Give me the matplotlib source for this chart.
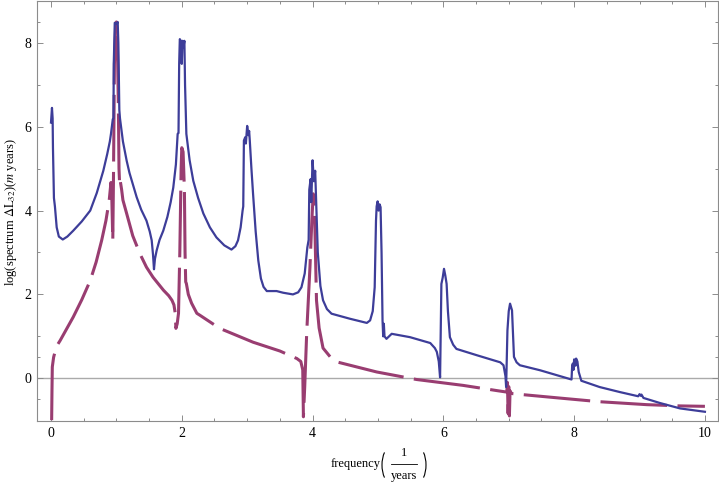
"""Spectrum of Delta L_32 vs frequency, two series on a log scale (Mathematica-style frame)."""

import matplotlib

matplotlib.use("Agg")
import matplotlib.pyplot as plt  # noqa: E402
from matplotlib.lines import Line2D  # noqa: E402
from matplotlib.patches import Arc  # noqa: E402
from matplotlib.ticker import FixedLocator, MultipleLocator  # noqa: E402

plt.rcParams["font.family"] = ["Liberation Serif", "DejaVu Serif"]
plt.rcParams["mathtext.fontset"] = "stix"

BLUE = "#3d3d99"
MAGENTA = "#993d71"
FRAME = "#8c8c8c"

# solid series
blue_x = [0.0, 0.015, 0.025, 0.03, 0.045, 0.06, 0.087, 0.12, 0.18, 0.25, 0.34, 0.47, 0.6, 0.7,
          0.8, 0.86, 0.9, 0.917, 0.945, 0.955, 0.96, 0.975, 1.0, 1.02, 1.03, 1.045, 1.055, 1.1,
          1.157, 1.2, 1.31, 1.38, 1.46, 1.51, 1.54, 1.56, 1.575, 1.59, 1.616, 1.66, 1.717,
          1.78, 1.83, 1.87, 1.91, 1.937, 1.95, 1.96, 1.97, 1.985, 1.995, 2.0, 2.01, 2.025, 2.04,
          2.05, 2.07, 2.12, 2.176, 2.25, 2.33, 2.43, 2.53, 2.65, 2.76, 2.82, 2.86, 2.9, 2.93,
          2.94, 2.95, 2.97, 2.98, 3.0, 3.02, 3.03, 3.04, 3.065, 3.09, 3.13, 3.17, 3.21, 3.25,
          3.3, 3.45, 3.55, 3.7, 3.78, 3.83, 3.88, 3.92, 3.94, 3.95, 3.97, 3.98, 4.0, 4.02,
          4.04, 4.06, 4.08, 4.12, 4.16, 4.22, 4.29, 4.57, 4.83, 4.88, 4.92, 4.95, 4.97, 4.98,
          4.995, 5.01, 5.025, 5.04, 5.055, 5.07, 5.08, 5.09, 5.10, 5.13, 5.21, 5.49, 5.8,
          5.87, 5.9, 5.93, 5.95, 5.96, 5.97, 5.99, 6.01, 6.03, 6.05, 6.07, 6.1, 6.15, 6.2,
          6.51, 6.81, 6.87, 6.92, 6.95, 6.96, 6.98, 7.0, 7.02, 7.05, 7.07, 7.08, 7.12, 7.17,
          7.48, 7.96, 7.97, 7.98, 7.99, 8.0, 8.02, 8.03, 8.05, 8.07, 8.11, 8.39, 8.7, 8.98,
          9.0, 9.02, 9.03, 9.06, 9.31, 9.62, 10.0]
blue_y = [6.1, 6.45, 6.2, 5.5, 4.3, 4.1, 3.6, 3.38, 3.31, 3.38, 3.52, 3.74, 4.0, 4.42,
          4.95, 5.35, 5.65, 5.83, 6.18, 6.2, 7.5, 8.48, 8.45, 8.5, 8.0, 6.4, 6.2, 5.65,
          5.19, 4.9, 4.32, 4.02, 3.76, 3.5, 3.29, 2.95, 2.6, 2.85, 3.05, 3.3, 3.52,
          3.85, 4.2, 4.55, 5.1, 5.83, 5.85, 7.5, 8.09, 8.05, 7.55, 7.5, 8.05, 7.9, 8.05,
          7.0, 5.83, 5.2, 4.71, 4.3, 3.93, 3.6, 3.36, 3.17, 3.07, 3.15, 3.29, 3.6, 4.0,
          4.1, 5.67, 5.75, 5.6, 6.02, 5.8, 5.9, 5.67, 5.0, 4.4, 3.5, 2.81, 2.38, 2.18,
          2.08, 2.08, 2.04, 2.0, 2.05, 2.17, 2.5, 3.12, 3.3, 4.5, 4.75, 4.2, 5.2, 4.7,
          4.95, 4.0, 3.0, 2.2, 1.86, 1.65, 1.54, 1.42, 1.32, 1.38, 1.6, 2.17, 3.76, 4.1,
          4.22, 4.0, 4.15, 4.08, 3.0, 1.38, 1.0, 1.3, 1.0, 0.94, 1.06, 0.98, 0.84,
          0.72, 0.63, 0.4, 0.02, 1.2, 2.25, 2.4, 2.61, 2.45, 2.25, 1.6, 0.98, 0.8, 0.7,
          0.55, 0.41, 0.38, 0.31, 0.05, -0.21, 1.14, 1.6, 1.78, 1.62, 0.9, 0.51, 0.38, 0.31,
          0.19, -0.03, 0.3, 0.35, 0.2, 0.45, 0.3, 0.47, 0.4, 0.15, -0.06, -0.21, -0.33, -0.43,
          -0.38, -0.42, -0.39, -0.47, -0.59, -0.72, -0.8]

# dashed series
mag_x = [0.01, 0.015, 0.02, 0.04, 0.06, 0.1, 0.14, 0.34, 0.47, 0.6, 0.69, 0.775, 0.84, 0.89,
         0.917, 0.93, 0.945, 0.955, 0.97, 0.99, 1.0, 1.015, 1.03, 1.04, 1.05, 1.06, 1.08,
         1.1, 1.157, 1.25, 1.36, 1.46, 1.56, 1.72, 1.8, 1.85, 1.88, 1.9, 1.91, 1.93, 1.95,
         1.97, 1.99, 2.0, 2.02, 2.04, 2.05, 2.06, 2.07, 2.1, 2.15, 2.23, 2.28, 2.58, 3.09,
         3.5, 3.76, 3.82, 3.85, 3.86, 3.88, 3.91, 3.96, 3.99, 4.01, 4.03, 4.06, 4.1, 4.16,
         4.27, 4.37, 4.98, 5.59, 6.3, 6.84, 6.97, 6.98, 6.99, 7.0, 7.01, 7.02, 7.04, 7.07,
         7.83, 8.39, 9.11, 9.62, 10.0]
mag_y = [-1.0, -0.3, 0.27, 0.5, 0.62, 0.8, 0.9, 1.46, 1.87, 2.33, 2.77, 3.29, 3.76, 4.24,
         4.67, 4.3, 3.29, 4.7, 7.5, 8.44, 8.5, 8.0, 6.5, 5.0, 4.6, 4.7, 4.5,
         4.25, 3.93, 3.4, 2.97, 2.65, 2.41, 2.1, 1.97, 1.86, 1.75, 1.55, 1.19, 1.3, 1.55,
         3.0, 5.0, 5.5, 5.4, 4.5, 3.0, 2.3, 2.26, 2.0, 1.79, 1.55, 1.5, 1.19, 0.86,
         0.65, 0.47, 0.4, 0.2, -0.92, -0.2, 1.07, 2.65, 3.8, 4.4, 4.0, 1.86, 1.2, 0.72,
         0.51, 0.39, 0.15, -0.03, -0.17, -0.3, -0.33, -0.1, -0.84, -0.2, -0.9, -0.3, -0.36, -0.37,
         -0.48, -0.56, -0.63, -0.66, -0.67]

x_ticks = [0, 2, 4, 6, 8, 10]
y_ticks = [0, 2, 4, 6, 8]
y_minor = [-0.5, 0.5, 1, 3, 5, 7, 8.5]

W, H = 719, 487


def px(x, y):
    """Pixel position in the 719x487 canvas (y down) -> figure fraction."""
    return x / W, 1 - y / H


def main():
    fig = plt.figure(figsize=(W / 100, H / 100), dpi=100)
    ax = fig.add_axes([37 / W, 1 - 421 / H, 681 / W, 420 / H])
    ax.set_xlim(-0.214, 10.2)
    ax.set_ylim(-1.02, 9.0)

    ax.axhline(0, color="#aaaaaa", lw=1.0, zorder=1)

    ax.plot(blue_x, blue_y, color=BLUE, lw=1.6, zorder=3)
    lw = 2.2
    ax.plot(mag_x, mag_y, color=MAGENTA, lw=lw, zorder=2,
            linestyle=(0, (48.0 / lw, 7.5 / lw)), dash_capstyle="butt")

    for s in ax.spines.values():
        s.set_color(FRAME)
        s.set_linewidth(0.8)

    ax.set_xticks(x_ticks)
    ax.set_yticks(y_ticks)
    ax.xaxis.set_minor_locator(MultipleLocator(0.5))
    ax.yaxis.set_minor_locator(FixedLocator(y_minor))
    ax.tick_params(which="both", direction="in", top=True, right=True, color=FRAME,
                   labelsize=10, width=0.7)
    ax.tick_params(which="major", length=4.5, pad=4)
    ax.tick_params(which="minor", length=2.5)

    fig.text(*px(11, 212), r"log(spectrum $\Delta\mathrm{L}_{32}$)($m$ years)",
             rotation=90, ha="center", va="center", fontsize=9)

    # x label: frequency(1/years) with tall parentheses
    fig.text(*px(381, 464), "frequency", ha="right", va="center", fontsize=9)
    fig.text(*px(404, 453), "1", ha="center", va="center", fontsize=9)
    fig.text(*px(404, 476), "years", ha="center", va="center", fontsize=9)
    x0, y0 = px(391, 464)
    x1, _ = px(417, 464)
    fig.add_artist(Line2D([x0, x1], [y0, y0], transform=fig.transFigure,
                          color="black", lw=0.6))
    for cx, t1, t2 in [(392, 112, 248), (416, -68, 68)]:
        fig.add_artist(Arc(px(cx, 465), 20 / W, 38 / H, theta1=t1, theta2=t2,
                           transform=fig.transFigure, color="black", lw=0.8))

    fig.savefig("out.png", dpi=100)


if __name__ == "__main__":
    main()
